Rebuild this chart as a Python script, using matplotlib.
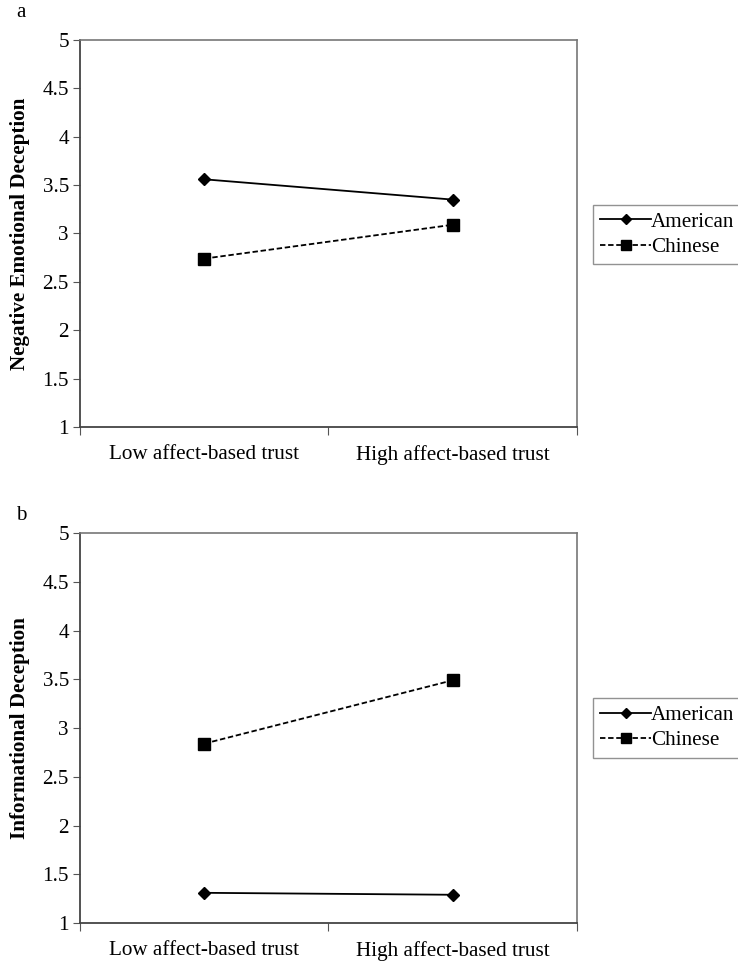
import matplotlib.pyplot as plt

# --- Data
groups = ['Low affect-based trust', 'High affect-based trust']
series_names = ['American', 'Chinese']
neg_american = [3.56, 3.35]
neg_chinese = [2.74, 3.09]
info_american = [1.31, 1.29]
info_chinese = [2.84, 3.49]
y_ticks = [1, 1.5, 2, 2.5, 3, 3.5, 4, 4.5, 5]

plt.rcParams['font.family'] = ['Liberation Serif', 'DejaVu Serif']

fig = plt.figure(figsize=(7.38, 9.61), dpi=100)

# letter, y label, values, axes rect, legend centre y, letter y
panels = [
  ('a', 'Negative Emotional Deception', neg_american, neg_chinese, [0.1084, 0.5557, 0.6734, 0.4027], 0.756, 0.9865),
  ('b', 'Informational Deception', info_american, info_chinese, [0.1084, 0.0395, 0.6734, 0.4058], 0.2425, 0.4635),
]

for letter, ylabel, am, ch, rect, leg_y, let_y in panels:
  ax = fig.add_axes(rect)
  xpos = [0.5, 1.5]
  ax.plot(xpos, am, color='black', linestyle='-', linewidth=1.3,
          marker='D', markersize=6, label=series_names[0])
  ax.plot(xpos, ch, color='black', linestyle=(0, (3, 1.5)), linewidth=1.3,
          marker='s', markersize=8, label=series_names[1])

  ax.set_xlim(0, 2)
  ax.set_ylim(1, 5)
  ax.set_yticks(y_ticks)
  ax.set_yticklabels(['%g' % t for t in y_ticks])
  ax.set_xticks([0, 1, 2])
  ax.set_xticklabels([])
  ax.set_xticks(xpos, minor=True)
  ax.set_xticklabels(groups, minor=True)
  ax.tick_params(axis='x', which='minor', length=0, pad=13, labelsize=15.2)
  ax.tick_params(axis='x', which='major', length=6, direction='out', color='#555555')
  ax.tick_params(axis='y', length=5, direction='out', color='#555555', labelsize=15.2, pad=3)

  for side in ['left', 'bottom']:
    ax.spines[side].set_color('#444444')
    ax.spines[side].set_linewidth(1.3)
  for side in ['top', 'right']:
    ax.spines[side].set_color('#777777')
    ax.spines[side].set_linewidth(1.2)

  ax.set_ylabel(ylabel, fontsize=15.2, fontweight='bold')
  ax.yaxis.set_label_coords(-0.101, 0.5)

  fig.text(0.022, let_y, letter, fontsize=15, ha='left', va='center')

  leg = fig.legend(handles=ax.get_lines(), loc='center left', bbox_to_anchor=(0.8035, leg_y),
                   fontsize=15.2, frameon=True, fancybox=False, edgecolor='#777777',
                   handlelength=2.4, handletextpad=0.0, borderpad=0.35, labelspacing=0.25,
                   borderaxespad=0, markerscale=0.85)
  leg.get_frame().set_linewidth(1.0)

plt.savefig('out.png', dpi=100)
